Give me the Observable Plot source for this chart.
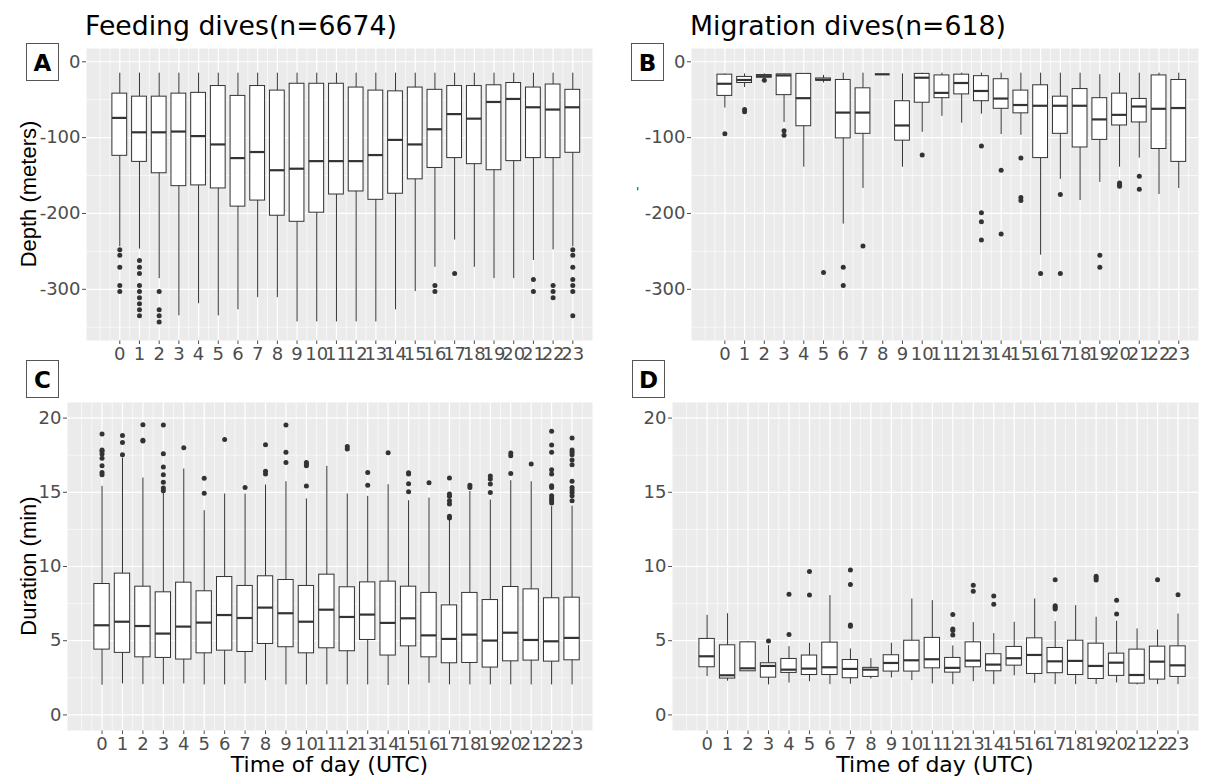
<!DOCTYPE html>
<html><head><meta charset="utf-8">
<script src="https://cdn.jsdelivr.net/npm/d3@7"></script>
<script src="https://cdn.jsdelivr.net/npm/@observablehq/plot@0.6"></script>
<style>
body{margin:0;background:#fff;}
#root{position:relative;width:1208px;height:782px;overflow:hidden;background:#fff;}
#root > svg{position:absolute;}
</style></head><body><div id="root"></div>
<script>
// ---------- data ----------
const hours = d3.range(24);
const xTickLabels = hours.map(String);

// Panel A: feeding dives, depth (m)
const feedDepthLo  = [-244,-247,-286,-335,-319,-335,-327,-311,-311,-343,-343,-343,-343,-343,-327,-303,-271,-235,-271,-286,-286,-262,-248,-244];
const feedDepthQ1  = [-124,-132,-147,-164,-163,-167,-191,-183,-203,-211,-199,-175,-171,-182,-174,-155,-140,-127,-135,-143,-131,-127,-127,-120];
const feedDepthMed = [-74,-93,-93,-92,-98,-109,-127,-119,-143,-141,-131,-131,-131,-123,-103,-109,-89,-69,-75,-53,-49,-60,-63,-60];
const feedDepthQ3  = [-42,-46,-46,-42,-41,-32,-45,-32,-38,-29,-29,-29,-34,-38,-39,-34,-37,-32,-32,-31,-28,-34,-30,-37];
const feedDepthHi  = [-15,-15,-15,-15,-15,-15,-15,-15,-15,-15,-15,-15,-15,-15,-15,-15,-15,-15,-15,-15,-15,-15,-15,-15];
const feedDepthOut = [[0,-248],[0,-255],[0,-271],[0,-295],[0,-303],
  [1,-262],[1,-271],[1,-279],[1,-295],[1,-303],[1,-311],[1,-319],[1,-327],[1,-335],
  [2,-303],[2,-327],[2,-335],[2,-343],
  [16,-295],[16,-303],[17,-279],[21,-287],[21,-303],[22,-295],[22,-303],[22,-311],
  [23,-248],[23,-255],[23,-271],[23,-287],[23,-295],[23,-303],[23,-335]];

// Panel B: migration dives, depth (m)
const migDepthLo  = [-61,-34,-21,-80,-139,-28,-214,-167,-16.5,-139,-93,-72,-81,-69,-96,-97,-255,-155,-183,-159,-139,-127,-175,-167];
const migDepthQ1  = [-45,-28,-21,-44,-85,-25,-101,-95,-16.5,-104,-54,-48,-43,-52,-62,-68,-127,-95,-113,-103,-84,-80,-115,-132];
const migDepthMed = [-29,-24,-19,-18,-48,-23.6,-67,-67,-16.5,-84,-21,-41,-28,-38.5,-48.5,-57,-58,-58,-58,-76,-70,-59,-62,-61];
const migDepthQ3  = [-17,-20,-17.5,-16.6,-16,-22,-24,-35,-16.5,-52,-16,-18,-17,-19,-23,-38,-31,-46,-36,-48,-42,-49,-18,-24];
const migDepthHi  = [-16,-16,-16,-16,-16,-18,-15,-15,-16.5,-16,-15,-15,-15,-15,-15,-15,-15,-15,-15,-17,-15,-15,-15,-15];
const migDepthOut = [[0,-95],[1,-63],[1,-66],[2,-24.5],[3,-91],[3,-97],[5,-278],[6,-271],[6,-295],[7,-243],
  [10,-123],[13,-111],[13,-199],[13,-211],[13,-235],[14,-143],[14,-227],[15,-127],[15,-179],[15,-183],
  [16,-279],[17,-175],[17,-279],[19,-255],[19,-271],[20,-160],[20,-162],[20,-164],[21,-151],[21,-168]];

// Panel C: feeding dives, duration (min)
const feedDurLo  = [2.0,2.09,2.04,2.04,2.09,2.02,2.02,2.09,2.31,2.02,2.02,2.02,2.02,2.02,1.98,2.02,2.13,2.02,2.02,2.02,2.02,2.02,2.02,2.02];
const feedDurQ1  = [4.4,4.18,3.88,3.84,3.73,4.15,4.33,4.24,4.78,4.56,4.15,4.49,4.29,5.05,4.0,4.62,3.88,3.48,3.5,3.19,3.61,3.66,3.59,3.68];
const feedDurMed = [6.04,6.28,5.99,5.48,5.95,6.22,6.73,6.53,7.23,6.85,6.28,7.09,6.6,6.76,6.2,6.51,5.36,5.12,5.41,5.01,5.54,5.05,4.96,5.19];
const feedDurQ3  = [8.82,9.52,8.64,8.26,8.91,8.33,9.29,8.69,9.34,9.09,8.69,9.45,8.6,8.93,8.98,8.64,8.22,7.38,8.22,7.74,8.62,8.46,7.86,7.9];
const feedDurHi  = [15.4,17.3,15.96,15.0,16.57,13.76,14.88,14.88,15.49,15.71,14.55,16.75,14.88,14.73,15.51,14.43,14.61,13.2,15.06,14.48,15.78,15.71,14.03,14.07];
const feedDurOut = [[0,18.92],[0,17.85],[0,17.76],[0,17.58],[0,17.3],[0,16.79],[0,16.34],[0,16.18],
  [1,18.83],[1,18.36],[1,17.53],[2,19.55],[2,18.5],[2,18.45],
  [3,19.53],[3,17.6],[3,16.7],[3,16.18],[3,15.67],[3,15.29],[3,15.1],
  [4,18.0],[5,15.94],[5,14.93],[6,18.56],[7,15.33],[8,18.2],[8,16.41],[8,16.23],
  [9,19.53],[9,17.69],[9,17.01],[10,17.01],[10,16.9],[10,16.79],[10,15.42],
  [12,18.09],[12,17.91],[13,16.34],[13,15.47],[14,17.67],
  [15,16.32],[15,16.23],[15,15.58],[15,15.04],[16,15.65],
  [17,15.96],[17,14.88],[17,14.73],[17,14.43],[17,14.21],[17,13.38],[17,13.27],
  [18,15.47],[18,15.33],[19,16.09],[19,15.89],[19,15.56],[19,14.99],
  [20,17.64],[20,17.46],[20,16.27],[21,16.9],
  [22,19.12],[22,18.18],[22,17.69],[22,16.52],[22,16.23],[22,15.44],[22,15.33],[22,14.77],[22,14.59],[22,14.43],[22,14.28],
  [23,18.65],[23,17.85],[23,17.69],[23,17.53],[23,17.17],[23,16.86],[23,15.74],[23,15.33],[23,15.15],[23,14.99],[23,14.77],[23,14.43]];

// Panel D: migration dives, duration (min)
const migDurLo  = [2.58,2.27,2.94,2.02,2.15,2.24,2.04,2.07,2.42,2.49,2.31,2.09,2.04,2.24,2.04,2.63,2.13,2.04,2.04,2.04,2.15,2.02,2.04,2.04];
const migDurQ1  = [3.21,2.45,2.94,2.51,2.83,2.69,2.69,2.47,2.56,2.92,2.92,3.14,2.85,3.21,2.94,3.32,2.76,2.81,2.69,2.42,2.63,2.11,2.38,2.56];
const migDurMed = [3.95,2.67,3.14,3.3,3.05,3.12,3.21,3.1,3.05,3.5,3.68,3.75,3.17,3.66,3.39,3.82,4.04,3.61,3.64,3.3,3.52,2.69,3.59,3.34];
const migDurQ3  = [5.12,4.69,4.89,3.48,3.77,4.0,4.87,3.7,3.17,4.02,5.0,5.19,3.84,4.89,4.09,4.58,5.16,4.51,5.0,4.8,4.13,4.4,4.6,4.62];
const migDurHi  = [6.71,6.82,4.94,4.67,4.6,4.83,8.04,4.44,3.79,4.83,7.81,7.7,4.65,6.22,5.48,6.24,7.81,6.29,7.36,6.58,6.31,5.79,5.72,6.8];
const migDurOut = [[3,4.98],[4,8.13],[4,5.41],[5,9.67],[5,8.08],[7,9.76],[7,8.78],[7,6.06],[7,5.97],
  [12,6.76],[12,5.79],[12,5.68],[12,5.39],[13,8.73],[13,8.33],[14,8.01],[14,7.45],
  [17,9.11],[17,7.36],[17,7.25],[17,7.14],[19,9.34],[19,9.23],[19,9.09],[20,7.72],[20,6.8],[22,9.11],[23,8.1]];

const depthTicks = [0,-100,-200,-300];
const depthMinor = [-50,-150,-250,-350];
const durTicks = [0,5,10,15,20];
const durMinor = [2.5,7.5,12.5,17.5];
const xMinor = [-1].concat(d3.range(-0.5, 24, 1));

// ---------- drawing ----------
const BOXW = 0.75;
function panel(o) {
  const rows = hours.map((h, i) => ({hour: h, lo: o.lo[i], q1: o.q1[i], med: o.med[i], q3: o.q3[i], hi: o.hi[i]}));
  const outs = o.out.map(([h, v]) => ({hour: h, v}));
  const svg = Plot.plot({
    width: o.width, height: o.height,
    marginLeft: o.ml, marginRight: o.mr, marginTop: o.mt, marginBottom: o.mb,
    style: {fontFamily: "DejaVu Sans", fontSize: "18px", color: "#4D4D4D", background: "transparent", overflow: "visible"},
    x: {domain: [-1.69, 24.0], ticks: hours, tickFormat: d => xTickLabels[d], tickSize: 4, tickPadding: 3, label: null},
    y: {domain: o.yDomain, ticks: o.yTicks, tickFormat: d => String(d), tickSize: 4, tickPadding: 2, label: null},
    marks: [
      Plot.frame({fill: "#EBEBEB", stroke: null}),
      Plot.ruleY(o.yMinor, {stroke: "white", strokeWidth: 0.6}),
      Plot.ruleX(xMinor, {stroke: "white", strokeWidth: 0.6}),
      Plot.ruleY(o.yTicks, {stroke: "white", strokeWidth: 1.2}),
      Plot.ruleX(hours, {stroke: "white", strokeWidth: 1.2}),
      Plot.ruleX(rows, {x: "hour", y1: "lo", y2: "hi", stroke: "#333333", strokeWidth: 1}),
      Plot.rect(rows, {x1: d => d.hour - BOXW / 2, x2: d => d.hour + BOXW / 2, y1: "q1", y2: "q3", fill: "white", stroke: "#333333", strokeWidth: 1}),
      Plot.ruleY(rows, {x1: d => d.hour - BOXW / 2, x2: d => d.hour + BOXW / 2, y: "med", stroke: "#333333", strokeWidth: 2.2}),
      Plot.dot(outs, {x: "hour", y: "v", r: 2.5, fill: "#333333", stroke: null})
    ]
  });
  svg.style.position = "absolute";
  svg.style.left = o.left + "px";
  svg.style.top = o.top + "px";
  return svg;
}

const root = document.getElementById("root");
root.appendChild(panel({lo: feedDepthLo, q1: feedDepthQ1, med: feedDepthMed, q3: feedDepthQ3, hi: feedDepthHi, out: feedDepthOut,
  yDomain: [-367.5, 17.5], yTicks: depthTicks, yMinor: depthMinor,
  left: 0, top: 40, width: 600, height: 335, ml: 86, mr: 8, mt: 8, mb: 35}));
root.appendChild(panel({lo: migDepthLo, q1: migDepthQ1, med: migDepthMed, q3: migDepthQ3, hi: migDepthHi, out: migDepthOut,
  yDomain: [-367.5, 17.5], yTicks: depthTicks, yMinor: depthMinor,
  left: 600, top: 40, width: 608, height: 335, ml: 91, mr: 10, mt: 8, mb: 35}));
root.appendChild(panel({lo: feedDurLo, q1: feedDurQ1, med: feedDurMed, q3: feedDurQ3, hi: feedDurHi, out: feedDurOut,
  yDomain: [-1.05, 21.05], yTicks: durTicks, yMinor: durMinor,
  left: 0, top: 392, width: 600, height: 362, ml: 67, mr: 8, mt: 10, mb: 24}));
root.appendChild(panel({lo: migDurLo, q1: migDurQ1, med: migDurMed, q3: migDurQ3, hi: migDurHi, out: migDurOut,
  yDomain: [-1.05, 21.05], yTicks: durTicks, yMinor: durMinor,
  left: 600, top: 392, width: 608, height: 362, ml: 72, mr: 10, mt: 10, mb: 24}));

// ---------- annotations (titles, tags, axis titles) ----------
const ns = "http://www.w3.org/2000/svg";
const ov = document.createElementNS(ns, "svg");
ov.setAttribute("width", 1208); ov.setAttribute("height", 782);
ov.style.position = "absolute"; ov.style.left = "0px"; ov.style.top = "0px"; ov.style.pointerEvents = "none";
root.appendChild(ov);
function txt(s, attrs) {
  const t = document.createElementNS(ns, "text");
  t.textContent = s;
  for (const k in attrs) t.setAttribute(k, attrs[k]);
  ov.appendChild(t);
}
function box(x, y, w, h) {
  const r = document.createElementNS(ns, "rect");
  r.setAttribute("x", x); r.setAttribute("y", y); r.setAttribute("width", w); r.setAttribute("height", h);
  r.setAttribute("fill", "white"); r.setAttribute("stroke", "#555"); r.setAttribute("stroke-width", 1);
  ov.appendChild(r);
}
const titles = ["Feeding dives(n=6674)", "Migration dives(n=618)"];
const tags = ["A", "B", "C", "D"];
const yTitles = ["Depth (meters)", "Duration (min)"];
const xTitle = "Time of day (UTC)";

txt(titles[0], {x: 85, y: 35, "font-family": "DejaVu Sans", "font-size": 26.7, fill: "black"});
txt(titles[1], {x: 690, y: 35, "font-family": "DejaVu Sans", "font-size": 26.7, fill: "black"});

[[26, 43.5], [631, 43.5], [26, 360.5], [632, 360.5]].forEach(([x, y], i) => {
  box(x + 0.5, y, 32, 37);
  txt(tags[i], {x: x + 16.5, y: y + 27, "text-anchor": "middle", "font-family": "DejaVu Sans", "font-weight": "bold", "font-size": 23, fill: "black"});
});

txt(yTitles[0], {transform: "translate(36,194) rotate(-90)", "text-anchor": "middle", "font-family": "Liberation Sans", "font-size": 22, fill: "black"});
txt(yTitles[1], {transform: "translate(36,566) rotate(-90)", "text-anchor": "middle", "font-family": "Liberation Sans", "font-size": 22, fill: "black"});
txt("'", {x: 636, y: 196, "font-family": "DejaVu Sans", "font-size": 12, fill: "#333"});
txt(xTitle, {x: 329.5, y: 772, "text-anchor": "middle", "font-family": "DejaVu Sans", "font-size": 22, fill: "black"});
txt(xTitle, {x: 935, y: 772, "text-anchor": "middle", "font-family": "DejaVu Sans", "font-size": 22, fill: "black"});
</script></body></html>
